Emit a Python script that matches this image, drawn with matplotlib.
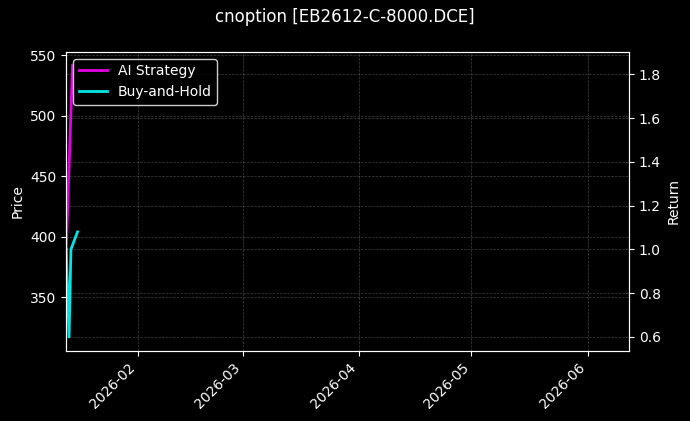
import pandas as pd
import matplotlib
matplotlib.use('Agg')
import matplotlib.pyplot as plt
import matplotlib.dates as mdates

# series data
ai_dates = pd.to_datetime(['2026-01-13 00:00', '2026-01-14 16:00'])
ai_return = [1.0, 1.84]

bh_dates = pd.to_datetime(['2026-01-13 00:00', '2026-01-13 18:00',
                           '2026-01-14 06:00', '2026-01-16 00:00'])
bh_return = [1.0, 0.60, 1.0, 1.08]

title = 'cnoption [EB2612-C-8000.DCE]'
x_start = pd.Timestamp('2026-01-13')
x_end = pd.Timestamp('2026-06-12')

plt.style.use('dark_background')
fig, ax1 = plt.subplots(figsize=(6.9, 4.21), dpi=100)
fig.subplots_adjust(left=0.096, right=0.9116, bottom=0.167, top=0.877)

ax1.set_ylabel('Price')
ax1.set_ylim(305.9, 552.7)
ax1.grid(True, linestyle='--', linewidth=0.5, color='gray', alpha=0.5)

ax2 = ax1.twinx()
ax2.plot(ai_dates, ai_return, color='magenta', lw=2, alpha=0.9, label='AI Strategy')
ax2.plot(bh_dates, bh_return, color='cyan', lw=2, alpha=0.9, label='Buy-and-Hold')
ax2.set_ylabel('Return')
ax2.set_ylim(0.537, 1.903)
ax2.grid(True, linestyle='--', linewidth=0.5, color='gray', alpha=0.5)

ax1.set_xlim(x_start, x_end)
ax1.xaxis.set_major_locator(mdates.MonthLocator())
ax1.xaxis.set_major_formatter(mdates.DateFormatter('%Y-%m'))
plt.setp(ax1.get_xticklabels(), rotation=45, ha='right')

ax2.legend(loc='upper left', facecolor='black', edgecolor='white')
fig.suptitle(title, fontsize=12)

fig.savefig('out.png', dpi=100)
